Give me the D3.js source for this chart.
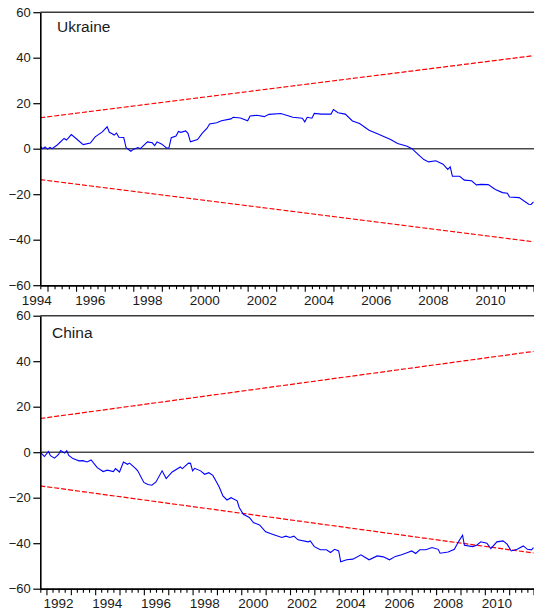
<!DOCTYPE html>
<html>
<head>
<meta charset="utf-8">
<script src="https://cdn.jsdelivr.net/npm/d3@7"></script>
<style>
  body { margin: 0; background: #fff; }
  svg { display: block; }
  text { font-family: "Liberation Sans", Arial, sans-serif; fill: #1a1a1a; }
</style>
</head>
<body>
<svg id="chart" width="534" height="616"></svg>
<script>
// CUSUM of recursive residuals, Ukraine (monthly)
const ukraineMonths = [
  "1994-10","1994-11","1994-12","1995-01","1995-02","1995-03","1995-05","1995-06","1995-08","1995-09",
  "1995-11","1996-01","1996-04","1996-07","1996-09","1996-12","1997-02","1997-03","1997-04","1997-05",
  "1997-06","1997-07","1997-09","1997-10","1997-12","1998-01","1998-03","1998-04","1998-07","1998-09",
  "1998-10","1998-11","1999-01","1999-03","1999-04","1999-05","1999-07","1999-08","1999-09","1999-11",
  "1999-12","2000-01","2000-04","2000-06","2000-08","2000-09","2000-12","2001-02","2001-06","2001-07",
  "2001-10","2002-01","2002-02","2002-05","2002-08","2002-10","2003-03","2003-08","2003-12","2004-01",
  "2004-02","2004-04","2004-05","2004-08","2004-12","2005-01","2005-03","2005-06","2005-09","2005-12",
  "2006-04","2006-08","2007-01","2007-04","2007-08","2007-10","2008-01","2008-03","2008-05","2008-08",
  "2008-11","2009-01","2009-02","2009-03","2009-06","2009-08","2009-11","2010-01","2010-03","2010-06",
  "2010-09","2010-12","2011-02","2011-03","2011-07","2011-11","2011-12","2012-01"
];
const ukraineCusum = [
  1.0, 0.0, 0.8, -0.2, 0.6, 0.0, 1.5, 2.5, 4.5, 3.8,
  6.2, 4.5, 1.8, 2.5, 5.2, 7.4, 9.6, 7.2, 6.7, 6.0,
  6.9, 5.0, 4.9, 0.5, -1.1, -0.3, 0.5, 0.0, 3.0, 2.6,
  1.4, 3.0, 2.0, 0.3, 0.3, 4.8, 5.6, 7.6, 7.2, 7.8,
  6.8, 3.0, 4.0, 6.8, 9.0, 10.9, 11.4, 12.3, 13.1, 13.8,
  13.5, 12.3, 14.4, 14.7, 14.1, 15.1, 15.5, 13.8, 13.4, 11.8,
  13.8, 13.4, 15.5, 15.2, 15.2, 17.2, 15.8, 15.2, 12.2, 11.1,
  8.1, 6.4, 4.0, 2.3, 1.1, 0.0, -2.9, -4.8, -5.8, -5.3,
  -6.8, -9.1, -8.0, -12.1, -12.1, -13.8, -14.1, -15.9, -15.7, -15.8,
  -17.9, -19.3, -19.6, -21.2, -21.5, -24.4, -24.5, -23.4
];
// 5% significance bounds at the first and last observation
const ukraineBound = [13.6, 40.9];

// CUSUM of recursive residuals, China (monthly)
const chinaMonths = [
  "1991-10","1991-12","1992-02","1992-03","1992-05","1992-07","1992-08","1992-10","1992-11","1992-12",
  "1993-02","1993-04","1993-05","1993-07","1993-09","1993-11","1994-02","1994-05","1994-07","1994-10",
  "1994-11","1995-01","1995-03","1995-05","1995-06","1995-09","1995-10","1996-01","1996-03","1996-05",
  "1996-07","1996-10","1996-12","1997-03","1997-07","1997-08","1997-11","1997-12","1998-01","1998-02",
  "1998-05","1998-07","1998-09","1998-11","1999-01","1999-02","1999-04","1999-06","1999-08","1999-11",
  "1999-12","2000-02","2000-05","2000-07","2000-10","2001-01","2001-04","2001-09","2001-11","2002-01",
  "2002-03","2002-05","2002-10","2002-11","2003-01","2003-04","2003-07","2003-09","2003-11","2004-01",
  "2004-02","2004-05","2004-08","2004-12","2005-04","2005-08","2005-11","2006-02","2006-05","2006-08",
  "2006-11","2007-01","2007-03","2007-05","2007-08","2007-11","2008-02","2008-03","2008-07","2008-10",
  "2008-12","2009-02","2009-03","2009-07","2009-09","2009-11","2010-02","2010-04","2010-07","2010-10",
  "2010-12","2011-02","2011-05","2011-08","2011-10","2011-12","2012-01"
];
const chinaCusum = [
  0.0, -1.9, 0.3, -1.5, -2.6, -1.0, 0.7, -0.4, 0.6, -1.4,
  -2.8, -3.4, -3.8, -3.7, -4.3, -3.4, -6.8, -8.5, -7.9, -8.5,
  -7.2, -8.7, -4.3, -5.3, -4.8, -7.2, -8.2, -13.3, -14.2, -14.5,
  -13.1, -8.2, -11.6, -8.7, -6.5, -7.2, -4.8, -4.9, -8.2, -7.1,
  -8.2, -9.7, -9.0, -10.2, -13.4, -15.1, -19.2, -21.0, -20.0, -21.4,
  -24.3, -27.3, -28.7, -30.9, -32.0, -35.0, -36.0, -37.5, -36.9, -37.5,
  -36.9, -38.5, -39.4, -39.0, -41.5, -42.9, -42.9, -44.1, -42.7, -43.4,
  -48.2, -47.3, -47.0, -45.1, -47.3, -45.6, -46.0, -47.3, -45.8, -45.1,
  -44.1, -43.4, -44.5, -42.9, -42.9, -41.9, -42.7, -44.4, -43.9, -42.7,
  -39.4, -36.5, -40.9, -41.5, -40.9, -39.4, -40.0, -42.4, -39.4, -39.0,
  -40.4, -43.4, -42.7, -41.2, -42.7, -42.9, -41.9
];
const chinaBound = [14.8, 44.3];

const yTicks = [-60, -40, -20, 0, 20, 40, 60];
const ukraineYearLabels = ["1994","1996","1998","2000","2002","2004","2006","2008","2010"];
const chinaYearLabels = ["1992","1994","1996","1998","2000","2002","2004","2006","2008","2010"];

const panels = [
  { title: "Ukraine", months: ukraineMonths, values: ukraineCusum, bound: ukraineBound,
    labels: ukraineYearLabels, top: 12.2, bottom: 285.2, titleX: 57, titleY: 32 },
  { title: "China", months: chinaMonths, values: chinaCusum, bound: chinaBound,
    labels: chinaYearLabels, top: 315.7, bottom: 588.7, titleX: 52, titleY: 337.5 }
];

const parseMonth = d3.timeParse("%Y-%m");
const svg = d3.select("#chart");
const left = 40.3, right = 533.5;

panels.forEach(p => {
  const dates = p.months.map(parseMonth);
  const first = dates[0], last = dates[dates.length - 1];
  const x = d3.scaleTime().domain([first, last]).range([left, right]);
  const y = d3.scaleLinear().domain([-60, 60]).range([p.bottom, p.top]);
  const g = svg.append("g");

  // frame top edge and zero line
  g.append("line").attr("x1", left).attr("x2", 534).attr("y1", y(60)).attr("y2", y(60))
    .attr("stroke", "#3a3a3a").attr("stroke-width", 1.6);
  g.append("line").attr("x1", left).attr("x2", 534).attr("y1", y(0)).attr("y2", y(0))
    .attr("stroke", "#4a4a4a").attr("stroke-width", 1.4);

  // significance bounds
  const boundLine = d3.line().x(d => x(d[0])).y(d => y(d[1]));
  [1, -1].forEach(s => {
    g.append("path")
      .datum([[first, s * p.bound[0]], [last, s * p.bound[1]]])
      .attr("d", boundLine)
      .attr("fill", "none").attr("stroke", "#ff0000").attr("stroke-width", 1.2)
      .attr("stroke-dasharray", "5,2");
  });

  // CUSUM series
  const series = dates.map((d, i) => [d, p.values[i]]);
  g.append("path").datum(series)
    .attr("d", d3.line().x(d => x(d[0])).y(d => y(d[1])))
    .attr("fill", "none").attr("stroke", "#0000ff").attr("stroke-width", 1.1);

  // y axis
  const yAxis = g.append("g").attr("transform", `translate(${left},0)`)
    .call(d3.axisLeft(y).tickValues(yTicks).tickSize(7).tickPadding(2.5).tickSizeOuter(0));
  yAxis.select(".domain").attr("stroke", "#000").attr("stroke-width", 1.6);
  yAxis.selectAll(".tick line").attr("stroke", "#000").attr("stroke-width", 1.2);
  yAxis.selectAll(".tick text").style("font-size", "13px").style("fill", "#1a1a1a");

  // x axis: year ticks (long), quarter ticks (short)
  const axisY = p.bottom;
  const quarters = d3.timeMonth.every(3).range(first, d3.timeDay.offset(last, 1))
    .filter(d => d.getMonth() !== 0);
  const years = d3.timeYear.range(first, d3.timeDay.offset(last, 1));
  const xq = g.append("g").attr("transform", `translate(0,${axisY})`)
    .call(d3.axisBottom(x).tickValues(quarters).tickSize(4).tickFormat("").tickSizeOuter(0));
  const xy = g.append("g").attr("transform", `translate(0,${axisY})`)
    .call(d3.axisBottom(x).tickValues(years).tickSize(6.5).tickFormat("").tickSizeOuter(0));
  [xq, xy].forEach(a => {
    a.select(".domain").attr("stroke", "#000").attr("stroke-width", 1.6);
    a.selectAll(".tick line").attr("stroke", "#000").attr("stroke-width", 1.1);
  });

  // year labels centred under each year's span
  p.labels.forEach(lbl => {
    const yr = +lbl;
    const mid = x(new Date(yr, 6, 1));
    const start = new Date(yr, 0, 1);
    const cx = start < first ? (mid + x(first)) / 2 : mid;
    g.append("text").attr("x", cx).attr("y", axisY + 19.5)
      .attr("text-anchor", "middle").style("font-size", "13.5px").text(lbl);
  });

  // panel title
  g.append("text").attr("x", p.titleX).attr("y", p.titleY)
    .style("font-size", "15.5px").text(p.title);
});
</script>
</body>
</html>
